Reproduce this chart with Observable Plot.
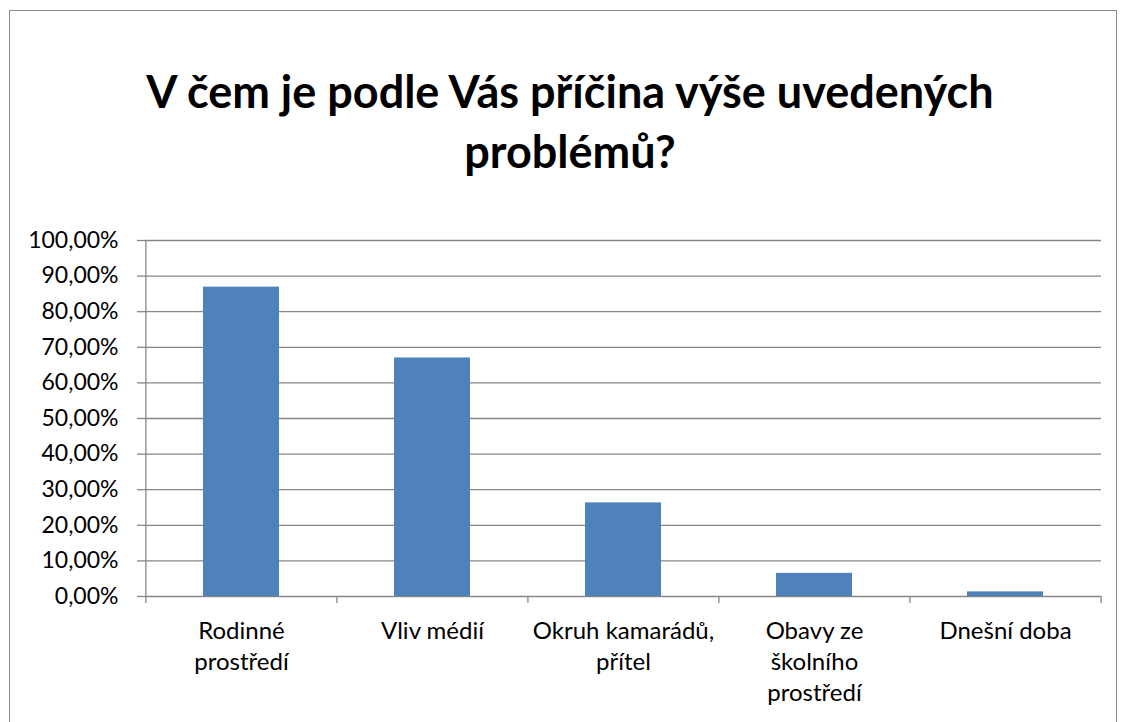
<!DOCTYPE html>
<html>
<head>
<meta charset="utf-8">
<script src="https://cdn.jsdelivr.net/npm/d3@7"></script>
<script src="https://cdn.jsdelivr.net/npm/@observablehq/plot@0.6"></script>
<style>
  html, body { margin: 0; padding: 0; background: #fff; }
  body { width: 1125px; height: 722px; position: relative; overflow: hidden; font-family: Lato, "Open Sans", sans-serif; }
  #frame { position: absolute; left: 9px; top: 10px; width: 1108px; height: 760px; border: 1px solid #8c8c8c; box-sizing: border-box; }
  #title { position: absolute; left: 0; top: 0; width: 1140px; height: 200px; text-align: center; font-weight: 700; font-size: 45px; line-height: 60px; color: #000; padding-top: 61px; box-sizing: border-box; }
  #chart { position: absolute; left: 0; top: 200px; }
</style>
</head>
<body>
<div id="frame"></div>
<div id="title">V čem je podle Vás příčina výše uvedených<br>problémů?</div>
<div id="chart"></div>
<script>
const categories = ["Rodinné prostředí", "Vliv médií", "Okruh kamarádů, přítel", "Obavy ze školního prostředí", "Dnešní doba"];
const tickLabels = ["Rodinné\nprostředí", "Vliv médií", "Okruh kamarádů,\npřítel", "Obavy ze\nškolního\nprostředí", "Dnešní doba"];
const values = [86.9, 67.0, 26.3, 6.5, 1.3];
const yTicks = [0, 10, 20, 30, 40, 50, 60, 70, 80, 90, 100];

const data = categories.map((c, i) => ({category: c, value: values[i]}));
const labelOf = new Map(categories.map((c, i) => [c, tickLabels[i]]));

const W = 1125, H = 522, mL = 145, mR = 24, mT = 40, mB = 126;
const step = (W - mL - mR) / categories.length;
const gray = "#868686";

const chart = Plot.plot({
  width: W,
  height: H,
  marginLeft: mL,
  marginRight: mR,
  marginTop: mT,
  marginBottom: mB,
  style: {fontFamily: "Lato, 'Open Sans', sans-serif", fontSize: "23px", color: "#000", background: "transparent"},
  x: {domain: categories, paddingInner: 0.6, paddingOuter: 0.3, align: 0.5, label: null},
  y: {domain: [0, 100], label: null},
  marks: [
    Plot.gridY(yTicks, {stroke: gray, strokeOpacity: 1, strokeWidth: 1.3}),
    Plot.ruleX([categories[0]], {x: d => d, dx: -step / 2, y1: 0, y2: 100, stroke: gray, strokeWidth: 1.3}),
    Plot.ruleX(categories, {x: d => d, dx: -step / 2, y1: 0, y2: 0, insetBottom: -7, stroke: gray, strokeWidth: 1.3}),
    Plot.ruleX([categories[categories.length - 1]], {x: d => d, dx: step / 2, y1: 0, y2: 0, insetBottom: -7, stroke: gray, strokeWidth: 1.3}),
    Plot.axisY({ticks: yTicks, tickSize: 8, tickPadding: 19, stroke: gray, strokeWidth: 1.3, tickFormat: d => d.toFixed(2).replace(".", ",") + "%", fill: "#000", fontSize: 23}),
    Plot.barY(data, {x: "category", y: "value", fill: "#4F81BD"}),
    Plot.axisX({tickSize: 0, tickPadding: 20, tickFormat: d => labelOf.get(d), lineHeight: 1.3, fill: "#000", fontSize: 24})
  ]
});
document.getElementById("chart").appendChild(chart);
</script>
</body>
</html>
